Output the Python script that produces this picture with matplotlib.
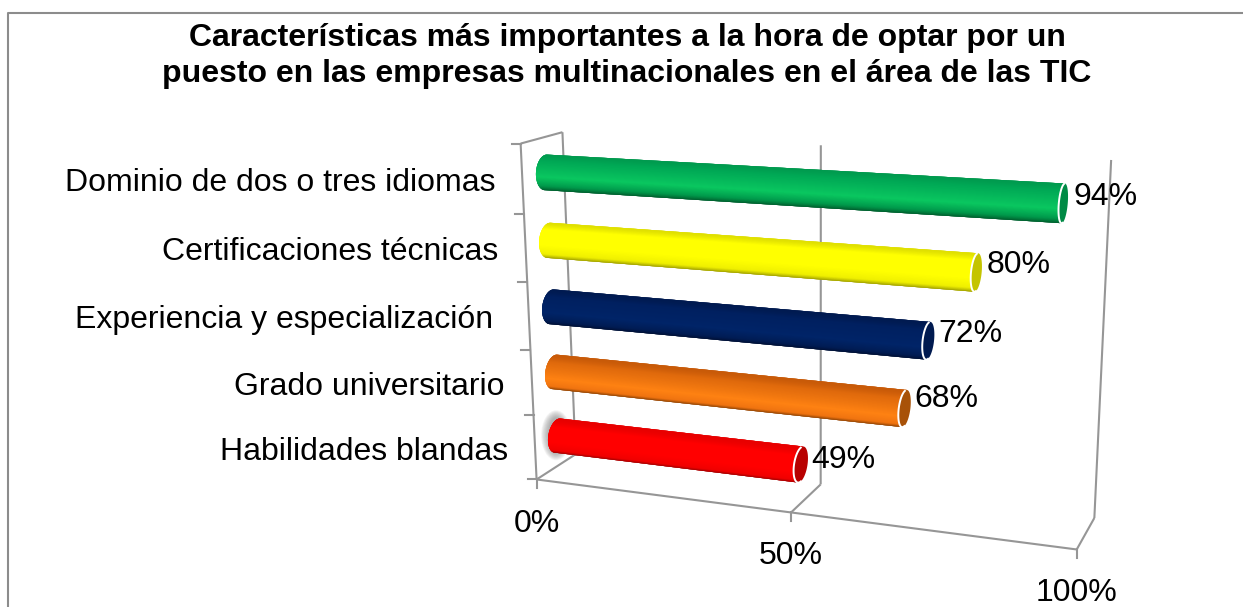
import numpy as np
import matplotlib
matplotlib.use("Agg")
import matplotlib.pyplot as plt
from matplotlib.collections import PolyCollection
from matplotlib.colors import to_rgb
from matplotlib.patches import Ellipse

plt.rcParams["font.family"] = ["Liberation Sans", "DejaVu Sans"]

title = "Características más importantes a la hora de optar por un\npuesto en las empresas multinacionales en el área de las TIC"
categories = ["Dominio de dos o tres idiomas", "Certificaciones técnicas",
              "Experiencia y especialización ", "Grado universitario", "Habilidades blandas"]
values = [94, 80, 72, 68, 49]
x_ticks = [0, 50, 100]

# colores del cilindro: arriba -> abajo, y la tapa
ramps = [["#009a4e", "#00a855", "#0ac860", "#009a4c", "#005a2c"],
         ["#e0e000", "#ffff00", "#ffff00", "#f0f000", "#9a9a00"],
         ["#001a50", "#002060", "#002468", "#001c54", "#000f30"],
         ["#c85a08", "#e06a0c", "#ff8212", "#f07410", "#7a3a04"],
         ["#e80000", "#ff0000", "#ff0000", "#f00000", "#8a0000"]]
caps = ["#008a45", "#c4c400", "#001a50", "#a85208", "#b80000"]
grid_color = "#969696"

# calibracion de la perspectiva: (valor, fila, fondo) -> pixel
world = np.array([[0, 5, 0], [50, 5, 0], [100, 5, 0], [0, 0, 0], [0, 5, 1], [50, 5, 1],
                  [100, 5, 1], [0, 0, 1], [50, 0, 1], [100, 0, 1]], dtype=float)
pixel = np.array([[537, 479], [791, 512], [1077, 550], [520, 144], [575, 455], [821, 484],
                  [1094, 518], [563, 132], [821, 145], [1111, 160]], dtype=float)
rows = []
rhs = []
for (a, b, c), (u, w) in zip(world, pixel):
    rows.append([a, b, c, 1, 0, 0, 0, 0, -u * a, -u * b, -u * c])
    rows.append([0, 0, 0, 0, a, b, c, 1, -w * a, -w * b, -w * c])
    rhs += [u, w]
P = np.linalg.lstsq(np.array(rows), np.array(rhs), rcond=None)[0]
P = np.append(P, 1).reshape(3, 4)


def project(v, s, d):
    v, s, d = np.broadcast_arrays(np.asarray(v, float), np.asarray(s, float), np.asarray(d, float))
    q = P @ np.vstack([v.ravel(), s.ravel(), d.ravel(), np.ones(v.size)])
    return (q[:2] / q[2]).T


fig = plt.figure(figsize=(12.43, 6.07), dpi=100)
ax = fig.add_axes([0, 0, 1, 1])
ax.set_xlim(0, 1243)
ax.set_ylim(607, 0)
ax.axis("off")


def line(a, b, lw=1.5):
    pts = np.vstack([project(*a), project(*b)])
    ax.plot(pts[:, 0], pts[:, 1], color=grid_color, lw=lw, solid_capstyle="butt", zorder=1)


# borde del grafico (solo arriba e izquierda)
ax.plot([8.5, 8.5, 1243], [607, 12.5, 12.5], color="#8c8c8c", lw=1.5, zorder=1)

# paredes y suelo
for t in x_ticks:
    line((t, 0, 1), (t, 5, 1))
    line((t, 5, 1), (t, 5, 0))
line((0, 0, 0), (0, 5, 0))
line((0, 0, 0), (0, 0, 1))
line((0, 5, 0), (100, 5, 0))

# marcas de los ejes
for i in range(6):
    a = project(0, i, 0)[0]
    ax.plot([a[0] - 9, a[0]], [a[1], a[1]], color=grid_color, lw=1.5, zorder=1)
for t in x_ticks:
    a = project(t, 5, 0)[0]
    ax.plot([a[0], a[0]], [a[1], a[1] + 9], color=grid_color, lw=1.5, zorder=1)

# sombra de la ultima barra
glow = project(0, 4.5, 0.5)[0]
for k in range(10):
    ax.add_patch(Ellipse((glow[0] + 1, glow[1]), 30 - k * 1.6, 50 - k * 1.6,
                         color="#707070", alpha=0.07, lw=0, zorder=1.5))

# cilindros
radius_s, radius_d = 0.255, 0.24
theta = np.linspace(0, 2 * np.pi, 241)
label_dy = [-6, -7, -7, -10, -5]
for i, (val, ramp, cap) in enumerate(zip(values, ramps, caps)):
    sc = i + 0.5
    s = sc + radius_s * np.cos(theta)
    d = 0.5 + radius_d * np.sin(theta)
    start = project(0.5, s, d)
    end = project(val, s, d)
    rgb = np.array([to_rgb(c) for c in ramp])
    # las tiras visibles se dibujan solapadas, de arriba hacia abajo
    strips = []
    for j in range(len(theta) - 4):
        q = np.array([start[j], end[j], end[j + 4], start[j + 4]])
        area = np.sum(q[:, 0] * np.roll(q[:, 1], -1) - np.roll(q[:, 0], -1) * q[:, 1])
        if area < 0:
            continue
        tc = (np.cos(theta[j + 2]) + 1) / 2
        strips.append((q[:, 1].mean(), q, [np.interp(1 - tc, [0, 0.18, 0.45, 0.88, 1], rgb[::-1, k]) for k in range(3)]))
    strips.sort(key=lambda it: it[0])
    polys = [it[1] for it in strips]
    colors = [it[2] for it in strips]
    ax.add_collection(PolyCollection(polys, facecolors=colors, edgecolors="none", zorder=2 + i * 0.1))
    ax.fill(end[:, 0], end[:, 1], facecolor=cap, edgecolor="none", zorder=2.05 + i * 0.1)
    # borde blanco solo en el lado izquierdo de la tapa
    half = len(theta) // 2
    ax.plot(end[half:, 0], end[half:, 1], color="white", lw=1.4, zorder=2.06 + i * 0.1)

    tip = project(val, sc, 0.5)[0]
    ax.text(tip[0] + 10, tip[1] + label_dy[i], f"{val}%", fontsize=23, ha="left", va="center", color="black", zorder=5)

    lab = project(0, sc, 0)[0]
    ax.text(lab[0] - 27, lab[1] + 4, categories[i], fontsize=23, ha="right", va="center", color="black", zorder=5)

for t, dy in zip(x_ticks, [45, 44, 44]):
    a = project(t, 5, 0)[0]
    ax.text(a[0], a[1] + dy, f"{t}%", fontsize=23, ha="center", va="center", color="black")

ax.text(627, 56, title, fontsize=23, fontweight="bold", ha="center", va="center", linespacing=1.25, color="black")

fig.savefig("out.png", dpi=100)
